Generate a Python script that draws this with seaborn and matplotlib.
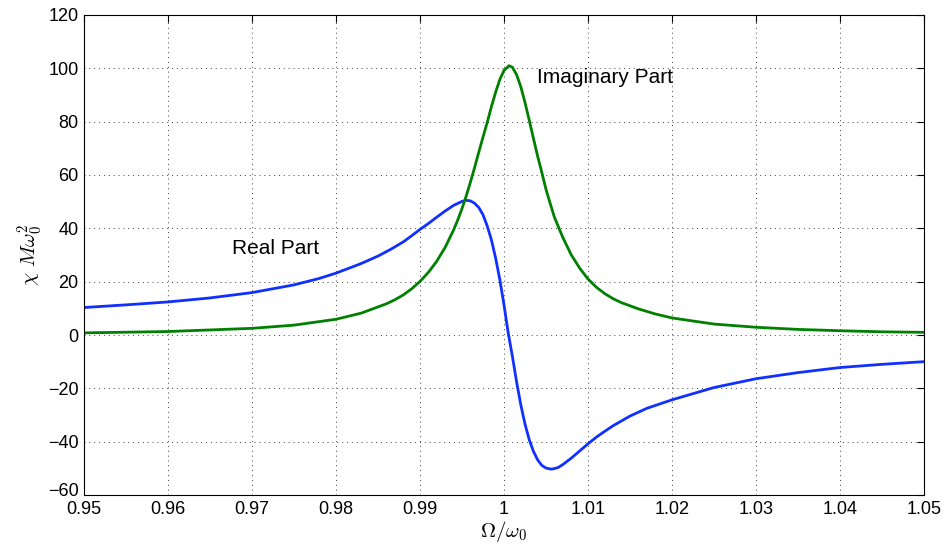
import numpy as np
import pandas as pd
import matplotlib
matplotlib.use("Agg")
import matplotlib.pyplot as plt
import matplotlib.transforms as mtransforms
import seaborn as sns

# values
real_x = [0.950, 0.955, 0.960, 0.965, 0.970, 0.975, 0.978, 0.980, 0.983, 0.985,
          0.9865, 0.988, 0.989, 0.990, 0.991, 0.992, 0.993, 0.994, 0.995, 0.9955,
          0.996, 0.9965, 0.997, 0.9975, 0.998, 0.9985, 0.999, 0.9995, 1.000, 1.0005,
          1.001, 1.0015, 1.002, 1.0025, 1.003, 1.0035, 1.004, 1.0045, 1.005, 1.0056,
          1.006, 1.0065, 1.007, 1.008, 1.009, 1.010, 1.011, 1.012, 1.013, 1.015,
          1.017, 1.020, 1.025, 1.030, 1.035, 1.040, 1.045, 1.050]
real_y = [10.3, 11.3, 12.4, 13.9, 15.9, 18.8, 21.2, 23.2, 26.8, 29.6,
          32.1, 34.9, 37.2, 39.6, 41.8, 44.2, 46.5, 48.6, 50.1, 50.5,
          50.3, 49.4, 47.8, 45.1, 40.9, 35.7, 28.9, 20.8, 11.3, 0.8,
          -8.0, -17.6, -26.2, -33.4, -39.2, -43.6, -46.8, -48.9, -49.9, -50.3,
          -50.1, -49.6, -48.6, -46.2, -43.5, -40.8, -38.3, -36.1, -34.0, -30.4,
          -27.5, -24.3, -19.7, -16.4, -14.1, -12.2, -11.0, -10.0]

imag_x = [0.950, 0.960, 0.970, 0.975, 0.980, 0.983, 0.986, 0.987, 0.988, 0.989,
          0.990, 0.991, 0.992, 0.993, 0.994, 0.9945, 0.995, 0.9955, 0.996, 0.9965,
          0.997, 0.9975, 0.998, 0.9985, 0.999, 0.9995, 1.000, 1.0006, 1.001, 1.0015,
          1.002, 1.0025, 1.003, 1.0035, 1.004, 1.0045, 1.005, 1.0055, 1.006, 1.0066,
          1.007, 1.008, 1.009, 1.010, 1.011, 1.012, 1.013, 1.014, 1.016, 1.018,
          1.020, 1.025, 1.030, 1.035, 1.040, 1.045, 1.050]
imag_y = [0.8, 1.3, 2.5, 3.7, 5.9, 8.2, 11.7, 13.2, 15.0, 17.3,
          20.1, 23.5, 27.7, 32.9, 39.4, 43.2, 47.4, 52.1, 57.3, 62.8,
          68.6, 74.2, 79.7, 85.6, 91.0, 95.8, 99.2, 101.0, 100.4, 97.6,
          93.1, 87.2, 80.6, 73.8, 67.1, 61.0, 54.6, 49.3, 44.2, 39.6,
          36.6, 30.1, 25.1, 21.0, 17.9, 15.5, 13.6, 12.1, 9.8, 7.9,
          6.4, 4.1, 2.9, 2.1, 1.6, 1.2, 1.0]

x_ticks = [0.95, 0.96, 0.97, 0.98, 0.99, 1.0, 1.01, 1.02, 1.03, 1.04, 1.05]
x_tick_labels = ["0.95", "0.96", "0.97", "0.98", "0.99", "1", "1.01", "1.02", "1.03", "1.04", "1.05"]
y_ticks = [-60, -40, -20, 0, 20, 40, 60, 80, 100, 120]

real_df = pd.DataFrame({"omega": real_x, "chi": real_y})
imag_df = pd.DataFrame({"omega": imag_x, "chi": imag_y})

sns.set_style("white")
plt.rcParams["font.family"] = ["Liberation Sans", "DejaVu Sans"]
plt.rcParams["mathtext.fontset"] = "cm"

fig = plt.figure(figsize=(9.51, 5.51), dpi=100)
ax = fig.add_axes([84 / 951, 56 / 551, 840 / 951, 480 / 551])

sns.lineplot(data=real_df, x="omega", y="chi", color="#1030ff", linewidth=2.0, ax=ax)
sns.lineplot(data=imag_df, x="omega", y="chi", color="#008000", linewidth=2.0, ax=ax)

ax.set_xlim(0.95, 1.05)
ax.set_ylim(-60, 120)
ax.set_xticks(x_ticks)
ax.set_xticklabels(x_tick_labels)
ax.set_yticks(y_ticks)
ax.tick_params(direction="in", length=5, width=0.8, top=True, right=True,
               labelsize=13, pad=4, colors="black")
for s in ax.spines.values():
    s.set_color("black")
    s.set_linewidth(0.8)
ax.grid(True, color="0.25", linestyle=(0, (1, 4)), linewidth=0.7)

# lift the bottom y label a little so it clears the first x label
lowest = ax.get_yticklabels()[0]
lowest.set_transform(lowest.get_transform() +
                     mtransforms.ScaledTranslation(0, 5 / 100, fig.dpi_scale_trans))

ax.text(0.96758, 32.4, "Real Part", fontsize=15, va="center", ha="left", color="black")
ax.text(1.00397, 96.4, "Imaginary Part", fontsize=15, va="center", ha="left", color="black")

ax.set_xlabel(r"$\Omega/\omega_0$", fontsize=15, labelpad=1, color="black")
ax.set_ylabel(r"$\chi\ M\omega_0^2$", fontsize=15, labelpad=2, color="black")

fig.savefig("out.png", dpi=100)
